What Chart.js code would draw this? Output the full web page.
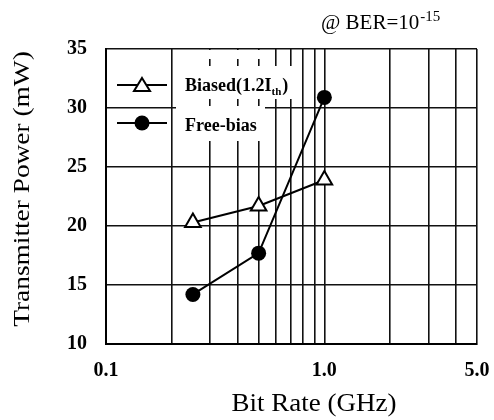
<!DOCTYPE html>
<html>
<head>
<meta charset="utf-8">
<script src="https://cdn.jsdelivr.net/npm/chart.js@4/dist/chart.umd.min.js"></script>
<style>
  html, body { margin: 0; padding: 0; background: #fff; }
  #wrap { width: 494px; height: 420px; }
</style>
</head>
<body>
<div id="wrap"><canvas id="myLineChart" width="494" height="420"></canvas></div>
<script>
// data
var bitRate = [0.25, 0.5, 1.0];
var biased = [20.3, 21.7, 23.9];
var freeBias = [14.2, 17.7, 30.9];

var xGrid = [0.1, 0.2, 0.3, 0.4, 0.5, 0.6, 0.7, 0.8, 0.9, 1.0, 2, 3, 4, 5];
var xLabels = [0.1, 1.0, 5.0];
var yTicks = [10, 15, 20, 25, 30, 35];

var serif = "'Liberation Serif', 'Times New Roman', serif";

// texts, legend box etc.
var extras = {
  id: 'extras',
  afterDraw: function (chart) {
    var c = chart.ctx;
    c.save();
    c.fillStyle = '#000';

    // title top right
    c.font = '21px ' + serif;
    c.textBaseline = 'alphabetic';
    c.textAlign = 'left';
    c.fillText('@ BER=10', 321, 29);
    var w = c.measureText('@ BER=10').width;
    c.font = '15px ' + serif;
    c.fillText('-15', 321 + w + 1, 21);

    // axis titles (the scan is a bit stretched)
    c.textAlign = 'center';
    c.textBaseline = 'middle';
    c.font = '25px ' + serif;
    c.save();
    c.translate(314, 404);
    c.scale(1.08, 1);
    c.fillText('Bit Rate (GHz)', 0, 0);
    c.restore();
    c.font = '24px ' + serif;
    c.save();
    c.translate(23, 189);
    c.rotate(-Math.PI / 2);
    c.scale(1.14, 1);
    c.fillText('Transmitter Power (mW)', 0, 0);
    c.restore();

    // legend, white patches over the grid
    c.fillStyle = '#fff';
    c.fillRect(176, 50, 89, 9);
    c.fillRect(176, 66, 124, 33);
    c.fillRect(176, 106, 89, 35);

    c.strokeStyle = '#000';
    c.lineWidth = 2;
    [85, 123].forEach(function (y) {
      c.beginPath();
      c.moveTo(117, y);
      c.lineTo(167, y);
      c.stroke();
    });
    // triangle symbol
    c.beginPath();
    c.moveTo(142, 78);
    c.lineTo(150, 91);
    c.lineTo(134, 91);
    c.closePath();
    c.fillStyle = '#fff';
    c.fill();
    c.stroke();
    // circle symbol
    c.beginPath();
    c.arc(142, 123, 7.5, 0, Math.PI * 2);
    c.fillStyle = '#000';
    c.fill();

    c.fillStyle = '#000';
    c.font = 'bold 18px ' + serif;
    c.textAlign = 'left';
    c.textBaseline = 'alphabetic';
    c.fillText('Biased(1.2I', 185, 91);
    var bw = c.measureText('Biased(1.2I').width;
    c.font = 'bold 11px ' + serif;
    c.fillText('th', 185 + bw, 95);
    var tw = c.measureText('th').width;
    c.font = 'bold 18px ' + serif;
    c.fillText(')', 185 + bw + tw + 1, 91);
    c.fillText('Free-bias', 185, 131);
    c.restore();
  }
};

var ctx = document.getElementById('myLineChart');

var myChart = new Chart(ctx, {
  type: 'line',
  data: {
    datasets: [
      {
        label: 'Biased(1.2Ith)',
        data: bitRate.map(function (x, i) { return { x: x, y: biased[i] }; }),
        borderColor: '#000',
        borderWidth: 2,
        backgroundColor: '#fff',
        pointStyle: 'triangle',
        pointRadius: 9,
        pointBorderWidth: 2,
        pointBorderColor: '#000',
        pointBackgroundColor: '#fff',
        fill: false,
        tension: 0
      },
      {
        label: 'Free-bias',
        data: bitRate.map(function (x, i) { return { x: x, y: freeBias[i] }; }),
        borderColor: '#000',
        borderWidth: 2,
        backgroundColor: '#000',
        pointStyle: 'circle',
        pointRadius: 7.5,
        pointBorderWidth: 0,
        pointBackgroundColor: '#000',
        fill: false,
        tension: 0
      }
    ]
  },
  options: {
    responsive: false,
    maintainAspectRatio: false,
    animation: false,
    layout: { padding: { top: 49, right: 17, left: 0, bottom: 0 } },
    plugins: {
      legend: { display: false },
      tooltip: { enabled: false }
    },
    scales: {
      x: {
        type: 'logarithmic',
        min: 0.1,
        max: 5,
        afterBuildTicks: function (scale) {
          scale.ticks = xGrid.map(function (v) { return { value: v }; });
        },
        afterFit: function (scale) {
          scale.height = 76;
          scale.paddingLeft = 0;
          scale.paddingRight = 0;
        },
        grid: { color: '#111', lineWidth: 1.6, drawTicks: false },
        border: { color: '#000', width: 2 },
        ticks: {
          autoSkip: false,
          maxRotation: 0,
          padding: 15,
          color: '#000',
          font: { family: serif, size: 20, weight: 'bold' },
          callback: function (v) {
            return xLabels.indexOf(v) >= 0 ? v.toFixed(1) : '';
          }
        }
      },
      y: {
        min: 10,
        max: 35,
        afterBuildTicks: function (scale) {
          scale.ticks = yTicks.map(function (v) { return { value: v }; });
        },
        afterFit: function (scale) {
          scale.width = 106;
          scale.paddingTop = 0;
          scale.paddingBottom = 0;
        },
        grid: { color: '#111', lineWidth: 1.6, drawTicks: false },
        border: { color: '#000', width: 2 },
        ticks: {
          padding: 19,
          color: '#000',
          font: { family: serif, size: 20, weight: 'bold' }
        }
      }
    }
  },
  plugins: [extras]
});
</script>
</body>
</html>
